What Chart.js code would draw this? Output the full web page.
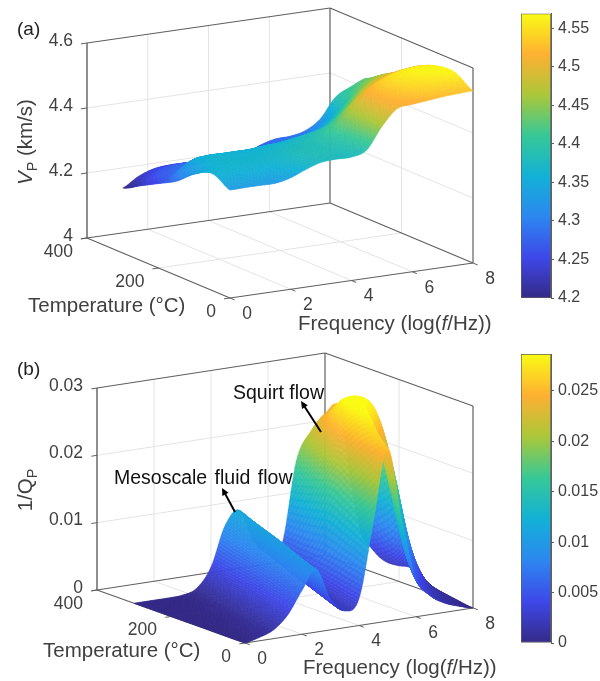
<!DOCTYPE html>
<html>
<head>
<meta charset="utf-8">
<title>Vp and attenuation surfaces</title>
<script src="https://cdn.jsdelivr.net/npm/chart.js@4"></script>
<style>
  html, body { margin: 0; padding: 0; background: #fff; }
  #page { position: relative; width: 600px; height: 681px; overflow: hidden; font-family: "Liberation Sans", Arial, sans-serif; filter: blur(0.45px); }
  canvas { position: absolute; }
  .lbl { position: absolute; white-space: nowrap; color: #404040; font-size: 20.5px; line-height: 22px; transform: translate(0, -50%); }
  .tag { color: #222; font-size: 19px; }
  .note { color: #111; font-size: 19.5px; }
  .rot { transform: translate(-50%, -50%) rotate(-90deg); }
  sub { font-size: 70%; line-height: 0; }
</style>
</head>
<body>
<div id="page">
  <canvas id="surfA" width="510" height="340" style="left:0;top:0"></canvas>
  <canvas id="surfB" width="510" height="341" style="left:0;top:340px"></canvas>
  <canvas id="barA" width="84" height="340" style="left:516px;top:0"></canvas>
  <canvas id="barB" width="84" height="341" style="left:516px;top:340px"></canvas>

  <div class="lbl tag" style="left:17px;top:29px">(a)</div>
  <div class="lbl rot" style="left:25px;top:142px"><i>V</i><sub>P</sub> (km/s)</div>
  <div class="lbl" style="left:28px;top:305px">Temperature (&#176;C)</div>
  <div class="lbl" style="left:298px;top:323px">Frequency (log(<i>f</i>/Hz))</div>

  <div class="lbl tag" style="left:17px;top:369px">(b)</div>
  <div class="lbl rot" style="left:25px;top:490px">1/Q<sub>P</sub></div>
  <div class="lbl" style="left:43px;top:650px">Temperature (&#176;C)</div>
  <div class="lbl" style="left:303px;top:667px">Frequency (log(<i>f</i>/Hz))</div>
  <div class="lbl note" style="left:114px;top:477px;word-spacing:2px">Mesoscale fluid flow</div>
  <div class="lbl note" style="left:233px;top:392px">Squirt flow</div>
</div>

<script>
// Temperatures of the rows, same for both panels
const temperatures = [0, 50, 100, 150, 200, 250, 300];

// Panel (a): Vp (km/s), one row per temperature
const vpColumns = [0, 0.5, 1, 1.5, 2, 2.5, 3, 3.5, 4, 4.5, 5, 5.5, 6, 6.5, 7, 7.5, 8];
const vpT0   = [4.332, 4.333, 4.333, 4.333, 4.343, 4.362, 4.377, 4.380, 4.380, 4.395, 4.460, 4.508, 4.515, 4.520, 4.525, 4.528, 4.530];
const vpT50  = [4.360, 4.362, 4.362, 4.362, 4.364, 4.372, 4.382, 4.385, 4.388, 4.405, 4.462, 4.510, 4.530, 4.545, 4.553, 4.560, 4.563];
const vpT100 = [4.335, 4.360, 4.365, 4.365, 4.365, 4.368, 4.375, 4.380, 4.390, 4.410, 4.450, 4.500, 4.530, 4.550, 4.560, 4.562, 4.560];
const vpT150 = [4.290, 4.345, 4.355, 4.355, 4.355, 4.355, 4.360, 4.362, 4.370, 4.380, 4.395, 4.430, 4.470, 4.500, 4.520, 4.532, 4.537];
const vpT200 = [4.260, 4.285, 4.300, 4.305, 4.310, 4.315, 4.320, 4.325, 4.330, 4.335, 4.342, 4.365, 4.400, 4.445, 4.475, 4.492, 4.498];
const vpT250 = [4.230, 4.260, 4.275, 4.280, 4.280, 4.278, 4.280, 4.285, 4.290, 4.295, 4.300, 4.312, 4.335, 4.375, 4.420, 4.450, 4.465];
const vpT300 = [4.200, 4.228, 4.245, 4.250, 4.250, 4.247, 4.247, 4.248, 4.250, 4.270, 4.283, 4.285, 4.295, 4.325, 4.385, 4.410, 4.430];

// Panel (b): 1/Qp. The two peaks drift with temperature, so the columns follow them:
// a column c is read at frequency c + qDrift * T
const qDrift = 0.004;
const qColumns = [-1.5, -1, -0.5, 0, 0.5, 1, 1.5, 2, 2.5, 3, 3.5, 4, 4.5, 5, 5.5, 6, 6.5, 7, 7.5, 8];
const qT0   = [0, 0, 0, 0, 0.0005, 0.0013, 0.0032, 0.0065, 0.0093, 0.0045, 0.0025, 0.0040, 0.0150, 0.0257, 0.0145, 0.0056, 0.0028, 0.0014, 0.0006, 0];
const qT50  = [0, 0, 0, 0, 0.0004, 0.0011, 0.0032, 0.0069, 0.0096, 0.0048, 0.0028, 0.0042, 0.0165, 0.0270, 0.0195, 0.0095, 0.0045, 0.0020, 0.0009, 0.0002];
const qT100 = [0, 0, 0, 0, 0.0003, 0.0010, 0.0033, 0.0074, 0.0100, 0.0052, 0.0031, 0.0045, 0.0180, 0.0285, 0.0255, 0.0175, 0.0095, 0.0040, 0.0012, 0.0003];
const qT150 = [0, 0, 0, 0, 0.0002, 0.0009, 0.0034, 0.0079, 0.0104, 0.0056, 0.0034, 0.0048, 0.0195, 0.0287, 0.0287, 0.0265, 0.0190, 0.0075, 0.0014, 0.0004];
const qT200 = [0, 0, 0, 0, 0.0002, 0.0009, 0.0035, 0.0084, 0.0107, 0.0059, 0.0037, 0.0050, 0.0190, 0.0270, 0.0285, 0.0270, 0.0180, 0.0045, 0.0012, 0.0004];
const qT250 = [0, 0, 0, 0, 0.0001, 0.0008, 0.0035, 0.0089, 0.0110, 0.0062, 0.0041, 0.0052, 0.0182, 0.0240, 0.0262, 0.0258, 0.0150, 0.0025, 0.0011, 0.0005];
const qT300 = [0, 0, 0, 0, 0.0001, 0.0008, 0.0036, 0.0095, 0.0114, 0.0065, 0.0045, 0.0055, 0.0175, 0.0215, 0.0238, 0.0240, 0.0110, 0.0017, 0.0010, 0.0005];

// Axis ticks
const freqTicks = [0, 2, 4, 6, 8];
const tempTicks = [0, 200, 400];
const vpTicks = [4, 4.2, 4.4, 4.6];
const qTicks = [0, 0.01, 0.02, 0.03];
const vpBarTicks = [4.2, 4.25, 4.3, 4.35, 4.4, 4.45, 4.5, 4.55];
const qBarTicks = [0, 0.005, 0.01, 0.015, 0.02, 0.025];
const vpColorRange = [4.2, 4.569];
const qColorRange = [0, 0.02867];

// Colormap stops (parula)
const parulaStops = [[53, 42, 135], [62, 72, 232], [45, 135, 240], [18, 177, 214], [55, 200, 151], [171, 199, 57], [254, 176, 50], [249, 251, 21]];

function parula(t) {
    t = Math.max(0, Math.min(1, t)) * (parulaStops.length - 1);
    const i = Math.min(Math.floor(t), parulaStops.length - 2);
    const k = t - i;
    const c = [0, 1, 2].map(j => Math.round(parulaStops[i][j] + (parulaStops[i + 1][j] - parulaStops[i][j]) * k));
    return `rgb(${c[0]},${c[1]},${c[2]})`;
}

// 3D view of each panel: where the axes box lands in the scale units of the chart
const viewA = { origin: [230, 298], fVec: [243, -35], tVec: [-143, -60], zVec: [0, -195], zMin: 4, zMax: 4.6 };
const viewB = { origin: [245, 643], fVec: [228, -35], tVec: [-148, -53], zVec: [0, -202], zMin: 0, zMax: 0.03 };

function project(view, f, T, z) {
    const a = f / 8, b = T / 400, c = (z - view.zMin) / (view.zMax - view.zMin);
    return {
        x: view.origin[0] + view.fVec[0] * a + view.tVec[0] * b + view.zVec[0] * c,
        y: view.origin[1] + view.fVec[1] * a + view.tVec[1] * b + view.zVec[1] * c
    };
}

function wire(view, from, to, color, width, order) {
    return {
        data: [project(view, ...from), project(view, ...to)],
        showLine: true, pointRadius: 0, borderColor: color, borderWidth: width, order: order
    };
}

// Box, walls and grid lines of a panel
function boxDatasets(view, zTicks) {
    const lo = view.zMin, hi = view.zMax, sets = [];
    const grid = '#e4e4e4', box = '#5f5f5f';
    freqTicks.slice(1, -1).forEach(f => {
        sets.push(wire(view, [f, 400, lo], [f, 400, hi], grid, 1, 5));
        sets.push(wire(view, [f, 0, lo], [f, 400, lo], grid, 1, 5));
    });
    sets.push(wire(view, [0, 200, lo], [8, 200, lo], grid, 1, 5));
    sets.push(wire(view, [8, 200, lo], [8, 200, hi], grid, 1, 5));
    zTicks.slice(1, -1).forEach(z => {
        sets.push(wire(view, [0, 400, z], [8, 400, z], grid, 1, 5));
        sets.push(wire(view, [8, 400, z], [8, 0, z], grid, 1, 5));
    });
    sets.push(wire(view, [0, 400, lo], [0, 400, hi], box, 1.4, 1));
    sets.push(wire(view, [8, 400, lo], [8, 400, hi], box, 1.2, 1));
    sets.push(wire(view, [8, 0, lo], [8, 0, hi], box, 1.2, 1));
    sets.push(wire(view, [0, 400, hi], [8, 400, hi], box, 1.2, 1));
    sets.push(wire(view, [8, 400, hi], [8, 0, hi], box, 1.2, 1));
    sets.push(wire(view, [0, 400, lo], [8, 400, lo], box, 1.2, 1));
    sets.push(wire(view, [8, 400, lo], [8, 0, lo], box, 1.2, 1));
    sets.push(wire(view, [0, 400, lo], [0, 0, lo], box, 1.2, 1));
    sets.push(wire(view, [0, 0, lo], [8, 0, lo], box, 1.2, 1));
    freqTicks.forEach(f => sets.push(wire(view, [f, 0, lo], [f, -13, lo], box, 1, 1)));
    tempTicks.forEach(T => sets.push(wire(view, [0, T, lo], [-0.2, T, lo], box, 1, 1)));
    zTicks.forEach(z => sets.push(wire(view, [0, 400, z], [-0.2, 400, z], box, 1, 1)));
    return sets;
}

// Smooth shading between the read values, same idea as "shading interp" in the source figure
function spline(a, b, c, d, t) {
    return 0.5 * (2 * b + (c - a) * t + (2 * a - 5 * b + 4 * c - d) * t * t + (3 * b - a - 3 * c + d) * t * t * t);
}

function surfaceAt(panel, f, T) {
    const rows = panel.rows, cols = panel.columns;
    const step = cols[1] - cols[0];
    const pos = (f - panel.drift * T - cols[0]) / step;
    const i = Math.max(0, Math.min(cols.length - 2, Math.floor(pos)));
    const rowPos = T / (temperatures[1] - temperatures[0]);
    const j = Math.max(0, Math.min(rows.length - 2, Math.floor(rowPos)));
    const vals = [-1, 0, 1, 2].map(dj => {
        const row = rows[Math.max(0, Math.min(rows.length - 1, j + dj))];
        const at = k => row[Math.max(0, Math.min(row.length - 1, k))];
        return spline(at(i - 1), at(i), at(i + 1), at(i + 2), pos - i);
    });
    return spline(vals[0], vals[1], vals[2], vals[3], rowPos - j);
}

// Plugin: fills the surface far cells first, then labels and arrows
function surfacePlugin(panel) {
    const view = panel.view, range = panel.colorRange;
    const nF = 170, nT = 80;
    const fEnd = 8, tEnd = temperatures[temperatures.length - 1];
    const mesh = [];
    for (let j = 0; j <= nT; j++) {
        mesh.push([]);
        for (let i = 0; i <= nF; i++) {
            mesh[j].push(surfaceAt(panel, fEnd * i / nF, tEnd * j / nT));
        }
    }
    return {
        id: 'surface',
        afterDatasetsDraw(chart) {
            const ctx = chart.ctx, sx = chart.scales.x, sy = chart.scales.y;
            const px = p => [sx.getPixelForValue(p.x), sy.getPixelForValue(p.y)];

            ctx.save();
            ctx.lineWidth = 0.5;
            ctx.lineJoin = 'round';
            for (let j = nT - 1; j >= 0; j--) {
                for (let i = nF - 1; i >= 0; i--) {
                    const f0 = fEnd * i / nF, f1 = fEnd * (i + 1) / nF;
                    const T0 = tEnd * j / nT, T1 = tEnd * (j + 1) / nT;
                    const corners = [[f0, T0, mesh[j][i]], [f1, T0, mesh[j][i + 1]], [f1, T1, mesh[j + 1][i + 1]], [f0, T1, mesh[j + 1][i]]];
                    const mean = (mesh[j][i] + mesh[j][i + 1] + mesh[j + 1][i + 1] + mesh[j + 1][i]) / 4;
                    const col = parula((mean - range[0]) / (range[1] - range[0]));
                    ctx.beginPath();
                    corners.forEach((c, n) => {
                        const [x, y] = px(project(view, ...c));
                        if (n === 0) ctx.moveTo(x, y); else ctx.lineTo(x, y);
                    });
                    ctx.closePath();
                    ctx.fillStyle = col;
                    ctx.strokeStyle = col;
                    ctx.fill();
                    ctx.stroke();
                }
            }

            // Tick labels of the three axes
            ctx.fillStyle = '#404040';
            ctx.font = '17.5px "Liberation Sans", Arial, sans-serif';
            ctx.textBaseline = 'middle';
            ctx.textAlign = 'center';
            freqTicks.forEach(f => {
                const [x, y] = px(project(view, f, 0, view.zMin));
                ctx.fillText(String(f), x + 17, y + 16);
            });
            ctx.textAlign = 'right';
            tempTicks.forEach(T => {
                const [x, y] = px(project(view, 0, T, view.zMin));
                ctx.fillText(String(T), x - 14, y + 14);
            });
            panel.zTicks.forEach(z => {
                const [x, y] = px(project(view, 0, 400, z));
                ctx.fillText(z.toFixed(z === view.zMin ? 0 : panel.zDigits), x - 14, y - 2);
            });

            // Black arrows of the annotations
            ctx.strokeStyle = '#000';
            ctx.fillStyle = '#000';
            ctx.lineWidth = 2;
            panel.arrows.forEach(ar => {
                const tx = sx.getPixelForValue(ar.tail[0]), ty = sy.getPixelForValue(ar.tail[1]);
                const hx = sx.getPixelForValue(ar.head[0]), hy = sy.getPixelForValue(ar.head[1]);
                const ang = Math.atan2(hy - ty, hx - tx);
                ctx.beginPath();
                ctx.moveTo(tx, ty);
                ctx.lineTo(hx - 5 * Math.cos(ang), hy - 5 * Math.sin(ang));
                ctx.stroke();
                ctx.beginPath();
                ctx.moveTo(hx, hy);
                ctx.lineTo(hx - 8 * Math.cos(ang - 0.45), hy - 8 * Math.sin(ang - 0.45));
                ctx.lineTo(hx - 8 * Math.cos(ang + 0.45), hy - 8 * Math.sin(ang + 0.45));
                ctx.closePath();
                ctx.fill();
            });
            ctx.restore();
        }
    };
}

function makeSurface(id, panel) {
    new Chart(document.getElementById(id), {
        type: 'scatter',
        data: { datasets: boxDatasets(panel.view, panel.zTicks) },
        options: {
            responsive: false,
            animation: false,
            events: [],
            plugins: { legend: { display: false }, tooltip: { enabled: false } },
            scales: {
                x: { type: 'linear', display: false, min: 0, max: 510 },
                y: { type: 'linear', display: false, reverse: true, min: panel.yRange[0], max: panel.yRange[1] }
            }
        },
        plugins: [surfacePlugin(panel)]
    });
}

function makeColorbar(id, range, ticks, padTop, padBottom) {
    new Chart(document.getElementById(id), {
        type: 'bar',
        data: {
            labels: [''],
            datasets: [{
                data: [[range[0], range[1]]],
                barPercentage: 1,
                categoryPercentage: 1,
                borderWidth: 1,
                borderColor: '#5f5f5f',
                borderSkipped: false,
                backgroundColor(ctx) {
                    const area = ctx.chart.chartArea;
                    if (!area) return '#888';
                    const g = ctx.chart.ctx.createLinearGradient(0, area.bottom, 0, area.top);
                    parulaStops.forEach((s, i) => g.addColorStop(i / (parulaStops.length - 1), `rgb(${s[0]},${s[1]},${s[2]})`));
                    return g;
                }
            }]
        },
        options: {
            responsive: false,
            animation: false,
            events: [],
            layout: { padding: { left: 5, top: padTop, bottom: padBottom } },
            plugins: { legend: { display: false }, tooltip: { enabled: false } },
            scales: {
                x: { display: false },
                y: {
                    position: 'right',
                    min: range[0],
                    max: range[1],
                    afterBuildTicks(scale) { scale.ticks = ticks.map(v => ({ value: v })); },
                    afterFit(scale) { scale.width = 49; },
                    border: { color: '#5f5f5f' },
                    grid: { drawOnChartArea: false, tickLength: 3, tickColor: '#5f5f5f' },
                    ticks: {
                        padding: 4,
                        color: '#404040',
                        autoSkip: false,
                        font: { size: 16, family: '"Liberation Sans", Arial, sans-serif' },
                        callback: v => String(+v.toFixed(3))
                    }
                }
            }
        }
    });
}

makeSurface('surfA', {
    view: viewA, rows: [vpT0, vpT50, vpT100, vpT150, vpT200, vpT250, vpT300], columns: vpColumns, drift: 0,
    colorRange: vpColorRange, zTicks: vpTicks, zDigits: 1, yRange: [0, 340], arrows: []
});
makeSurface('surfB', {
    view: viewB, rows: [qT0, qT50, qT100, qT150, qT200, qT250, qT300], columns: qColumns, drift: qDrift,
    colorRange: qColorRange, zTicks: qTicks, zDigits: 2, yRange: [340, 681],
    arrows: [{ tail: [235, 512], head: [222, 488] }, { tail: [321, 432], head: [301, 401] }]
});
makeColorbar('barA', vpColorRange, vpBarTicks, 9, 42);
makeColorbar('barB', qColorRange, qBarTicks, 14, 38);
</script>
</body>
</html>
